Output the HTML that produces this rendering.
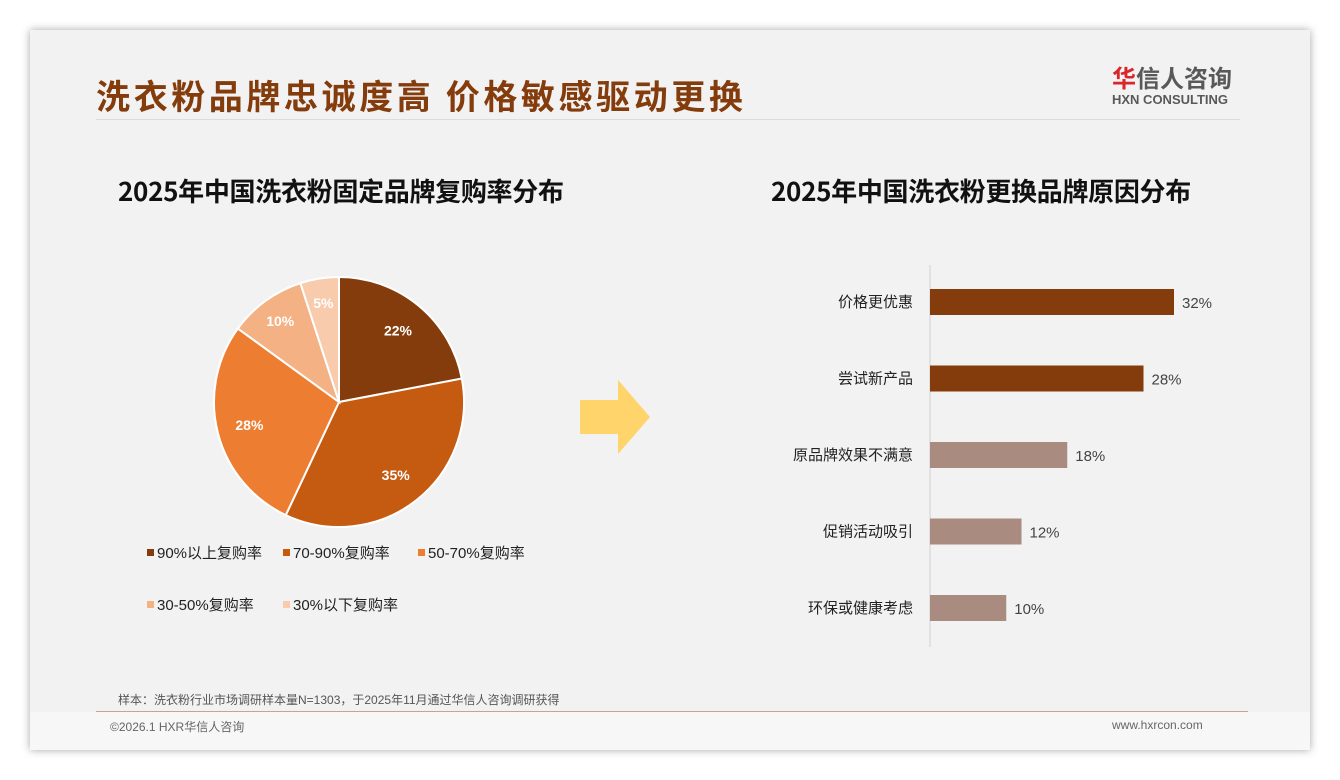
<!DOCTYPE html>
<html><head><meta charset="utf-8"><style>
body{margin:0;width:1340px;height:780px;background:#fff;position:relative;font-family:"Liberation Sans","Noto Sans CJK SC",sans-serif;overflow:hidden}
#slide{position:absolute;left:30px;top:30px;width:1280px;height:720px;background:#f2f2f2;box-shadow:0 0 8px rgba(0,0,0,.35)}
.abs{position:absolute}
</style></head><body>
<div id="slide">
<div class="abs" style="left:66px;top:40px;font-size:34px;font-weight:bold;color:#843c0c;font-family:'Noto Sans CJK SC',sans-serif;letter-spacing:3.6px">洗衣粉品牌忠诚度高 价格敏感驱动更换</div>
<div class="abs" style="left:1082px;top:32px;text-align:left">
<div style="font-size:24px;font-weight:bold;color:#595959;font-family:'Noto Sans CJK SC',sans-serif;line-height:30px"><span style="color:#d9262b">华</span>信人咨询</div>
<div style="font-size:13px;font-weight:bold;color:#595959;line-height:16px">HXN CONSULTING</div>
</div>
<div class="abs" style="left:66px;top:89px;width:1144px;height:1px;background:#dcdcdc"></div>
<div class="abs" style="left:88px;top:142px;font-size:26px;font-weight:bold;color:#111;font-family:'Noto Sans CJK SC',sans-serif;letter-spacing:-0.3px">2025年中国洗衣粉固定品牌复购率分布</div>
<div class="abs" style="left:741px;top:142px;font-size:26px;font-weight:bold;color:#111;font-family:'Noto Sans CJK SC',sans-serif;letter-spacing:-0.3px">2025年中国洗衣粉更换品牌原因分布</div>
<svg class="abs" style="left:550px;top:350px" width="72" height="76"><polygon points="0,20 38,20 38,0 70,37 38,74 38,54 0,54" fill="#ffd46b"/></svg>
<div class="abs" style="left:88px;top:661px;font-size:12px;color:#555">样本：洗衣粉行业市场调研样本量N=1303，于2025年11月通过华信人咨询调研获得</div>
<div class="abs" style="left:66px;top:681px;width:1152px;height:1px;background:#c9a48a"></div>
<div class="abs" style="left:0;top:682px;width:1280px;height:38px;background:#f7f7f7"></div>
<div class="abs" style="left:80px;top:688px;font-size:12px;color:#666">©2026.1 HXR华信人咨询</div>
<div class="abs" style="left:1082px;top:688px;font-size:12px;color:#666">www.hxrcon.com</div>
</div>
<svg id="pie" class="abs" style="left:0;top:0" width="1340" height="780"></svg>
<svg id="bars" class="abs" style="left:0;top:0" width="1340" height="780"></svg>
<script>
const pieLabels=["90%以上复购率","70-90%复购率","50-70%复购率","30-50%复购率","30%以下复购率"];
const pieValues=[22,35,28,10,5];
const pieColors=["#843c0c","#c55a11","#ed7d31","#f4b183","#f8cbad"];
const barCats=["价格更优惠","尝试新产品","原品牌效果不满意","促销活动吸引","环保或健康考虑"];
const barValues=[32,28,18,12,10];
const NS="http://www.w3.org/2000/svg";
function mk(p,t,a){const e=document.createElementNS(NS,t);for(const k in a)e.setAttribute(k,a[k]);p.appendChild(e);return e;}
const pie=document.getElementById('pie');
const cx=339,cy=402,R=125;
const total=pieValues.reduce((a,b)=>a+b,0);
let ang=0;
pieValues.forEach((v,i)=>{
 const a0=ang/total*2*Math.PI,a1=(ang+v)/total*2*Math.PI;ang+=v;
 const x0=cx+R*Math.sin(a0),y0=cy-R*Math.cos(a0),x1=cx+R*Math.sin(a1),y1=cy-R*Math.cos(a1);
 const p=mk(pie,'path',{d:`M${cx},${cy}L${x0},${y0}A${R},${R} 0 ${a1-a0>Math.PI?1:0} 1 ${x1},${y1}Z`,fill:pieColors[i],stroke:'#fff','stroke-width':2});
 
 
 const am=(a0+a1)/2,lr=R*(v<=10?0.8:0.74);
 const t=mk(pie,'text',{x:cx+lr*Math.sin(am),y:cy-lr*Math.cos(am)+5,'text-anchor':'middle','font-size':14,'font-weight':'bold',fill:'#fff'});
 t.textContent=v+'%';
 
 
});
const legPos=[[147,553],[283,553],[418,553],[147,605],[283,605]];
pieLabels.forEach((l,i)=>{
 const g=mk(pie,'g',{});
 
 
 mk(g,'rect',{x:legPos[i][0],y:legPos[i][1]-4,width:7,height:7,fill:pieColors[i]});
 const t=mk(g,'text',{x:legPos[i][0]+10,y:legPos[i][1]+5,'font-size':15,fill:'#222'});t.textContent=l;
});
const bars=document.getElementById('bars');
const x0=930,scale=244/32,y0=302,step=76.5,bh=26;
const ax=mk(bars,'line',{x1:x0,x2:x0,y1:265,y2:647,stroke:'#d0d0d0','stroke-width':1});


barCats.forEach((c,i)=>{
 const y=y0+i*step;
 const r=mk(bars,'rect',{x:x0,y:y-bh/2,width:barValues[i]*scale,height:bh,fill:i<2?'#843c0c':'#a98b80'});
 
 
 const t=mk(bars,'text',{x:x0-17,y:y+5,'text-anchor':'end','font-size':15,fill:'#222'});t.textContent=c;
 
 
 const v=mk(bars,'text',{x:x0+barValues[i]*scale+8,y:y+6,'font-size':15,fill:'#444'});v.textContent=barValues[i]+'%';
 
 
});
</script>
</body></html>
